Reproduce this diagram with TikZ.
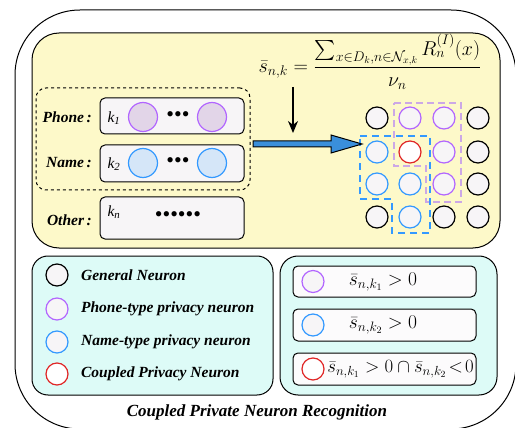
\documentclass[tikz,border=0pt]{standalone}
\usepackage{fix-cm}
\usepackage{amsmath,amssymb}
\usepackage{fontspec}
\setmainfont{Liberation Serif}
\usetikzlibrary{arrows.meta,positioning}

\definecolor{paleyellow}{HTML}{FDF9C9}
\definecolor{palecyan}{HTML}{DDFBF7}
\definecolor{cellgray}{HTML}{F7F5F7}
\definecolor{phonepurple}{HTML}{B266FF}
\definecolor{phonefill}{HTML}{E2D5E8}
\definecolor{nameblue}{HTML}{3399FF}
\definecolor{namefill}{HTML}{D5E6F8}
\definecolor{coupledred}{HTML}{E02626}
\definecolor{lavender}{HTML}{CCA8E6}
\definecolor{arrowblue}{HTML}{3A8FDB}

\newcommand{\lblfont}{\fontsize{15.5}{18}\selectfont\bfseries\itshape}
\newcommand{\mathfont}{\fontsize{19.5}{22}\selectfont}

\begin{document}
\begin{tikzpicture}[x=1pt, y=-1pt, node distance=9pt, auto]
  % Define styles
  \tikzstyle{panel} = [draw, line width=1pt]
  \tikzstyle{rowbox} = [rectangle, draw, line width=1pt, fill=cellgray, rounded corners=5pt, minimum width=144pt, inner sep=0pt]
  \tikzstyle{rulebox} = [rectangle, draw, line width=1pt, fill=white!60!cellgray, rounded corners=5pt, minimum width=183pt, minimum height=31pt, inner sep=0pt]
  \tikzstyle{neuron} = [circle, draw, line width=1.2pt, fill=cellgray, minimum size=22pt, inner sep=0pt]
  \tikzstyle{bigneuron} = [circle, draw, line width=1.2pt, minimum size=29pt, inner sep=0pt]
  \tikzstyle{label} = [font=\lblfont, inner sep=2pt]
  \tikzstyle{legend} = [font=\lblfont, anchor=west]
  \tikzstyle{dots} = [font=\fontsize{22}{24}\selectfont, inner sep=0pt]
  \tikzstyle{line} = [draw, line width=1.2pt, -{Stealth[length=12pt, width=10pt]}]

  \useasboundingbox (0,0) rectangle (515,428);

  % Panels
  \draw [panel, rounded corners=65pt] (15,10) rectangle (516,429);
  \draw [panel, fill=paleyellow, rounded corners=27pt] (32,33) rectangle (500,248);
  \draw [panel, fill=palecyan, rounded corners=16pt] (32,256) rectangle (273,395);
  \draw [panel, fill=palecyan, rounded corners=18pt] (280,256) rectangle (497,395);

  % Privacy data rows
  \node [rectangle, draw, dashed, line width=1pt, rounded corners=10pt, minimum width=214pt, minimum height=102pt] (group) at (143,139) {};
  \node [rowbox, minimum height=36pt] (phonerow) at (172,116) {};
  \node [rowbox, minimum height=37pt] (namerow) at (172,163.5) {};
  \node [rowbox, minimum height=42pt] (otherrow) at (172,218) {};

  \node [label, anchor=east] (phone) at (94,117) {Phone\,:};
  \node [label, anchor=east] (name) at (94,163) {Name\,:};
  \node [label, anchor=east] (other) at (94,220) {Other\,:};

  \node [font=\fontsize{15.5}{18}\selectfont\itshape] (k1) at (114,118) {k\textsubscript{1}};
  \node [font=\fontsize{15.5}{18}\selectfont\itshape] (k2) at (114,164) {k\textsubscript{2}};
  \node [font=\fontsize{15.5}{18}\selectfont\itshape] (kn) at (114,212) {k\textsubscript{\textit{n}}};

  \node [bigneuron, draw=phonepurple, fill=phonefill] (p1) at (143,117) {};
  \node [dots] (pdots) at (178,117) {\textbullet\textbullet\textbullet};
  \node [bigneuron, draw=phonepurple, fill=phonefill] (p2) at (212,117) {};
  \node [bigneuron, draw=nameblue, fill=namefill] (m1) at (143,163) {};
  \node [dots] (mdots) at (178,163) {\textbullet\textbullet\textbullet};
  \node [bigneuron, draw=nameblue, fill=namefill] (m2) at (212,163) {};
  \node [dots] (odots) at (178,217) {\textbullet\textbullet\textbullet\textbullet\textbullet\textbullet};

  % Score formula
  \node (formula) at (370,62) {\fontsize{20}{24}\selectfont $\displaystyle \bar{s}_{n,k} = \frac{\sum_{x\in D_k, n\in\mathcal{N}_{x,k}} R_n^{(I)}(x)}{\nu_n}$};
  \coordinate (formulafoot) at (293,87);
  \coordinate (scorein) at (293,133);
  \path [line] (formulafoot) -- (scorein);

  % Neuron grid
  \node [neuron] (n11) at (377,118) {};
  \node [neuron, draw=phonepurple] (n12) at (410,118) {};
  \node [neuron, draw=phonepurple] (n13) at (444,118) {};
  \node [neuron] (n14) at (478,118) {};
  \node [neuron, draw=nameblue] (n21) at (377,152) {};
  \node [neuron, draw=coupledred, fill=white] (n22) at (410,152) {};
  \node [neuron, draw=phonepurple] (n23) at (444,152) {};
  \node [neuron] (n24) at (478,152) {};
  \node [neuron, draw=nameblue] (n31) at (377,184) {};
  \node [neuron, draw=nameblue] (n32) at (410,184) {};
  \node [neuron, draw=phonepurple] (n33) at (444,184) {};
  \node [neuron] (n34) at (478,184) {};
  \node [neuron] (n41) at (377,217) {};
  \node [neuron, draw=nameblue] (n42) at (410,217) {};
  \node [neuron] (n43) at (444,217) {};
  \node [neuron] (n44) at (478,217) {};

  \draw [lavender, line width=2.4pt, dash pattern=on 7pt off 4pt] (394,103) -- (461,103) -- (461,202) -- (426,202) -- (426,166) -- (394,166) -- cycle;
  \draw [nameblue, line width=2.4pt, dash pattern=on 7pt off 5pt] (360,136) -- (430,136) -- (430,233) -- (392,233) -- (392,199) -- (360,199) -- cycle;

  % Mapping arrow
  \coordinate (arrowtail) at (253,144);
  \coordinate (arrowtip) at (362,144);
  \draw [line width=1pt, fill=arrowblue] (arrowtail) ++(0,-3) -- ++(78,0) -- ++(0,-6) -- (arrowtip) -- ++(-31,9) -- ++(0,-6) -- ++(-78,0) -- cycle;

  % Legend
  \node [neuron] (g1) at (57,275) {};
  \node [legend, right=of g1] (g1text) {General Neuron};
  \node [neuron, draw=phonepurple] (g2) at (57,309) {};
  \node [legend, right=of g2] (g2text) {Phone-type privacy neuron};
  \node [neuron, draw=nameblue] (g3) at (57,342) {};
  \node [legend, right=of g3] (g3text) {Name-type privacy neuron};
  \node [neuron, draw=coupledred, fill=white] (g4) at (57,374) {};
  \node [legend, right=of g4] (g4text) {Coupled Privacy Neuron};

  % Rules
  \node [rulebox] (r1) at (384.5,281.5) {};
  \node [neuron, draw=phonepurple] (c1) at (313,281.5) {};
  \node [font=\mathfont] (t1) at (383,282) {$\bar{s}_{n,k_1} > 0$};
  \node [rulebox, minimum height=32pt] (r2) at (384.5,325) {};
  \node [neuron, draw=nameblue] (c2) at (313,325) {};
  \node [font=\mathfont] (t2) at (383,325) {$\bar{s}_{n,k_2} > 0$};
  \node [rulebox, minimum height=32pt] (r3) at (384.5,369) {};
  \node [neuron, draw=coupledred, fill=white] (c3) at (313,369) {};
  \node [font=\fontsize{18.8}{22}\selectfont, inner sep=0pt] (t3) at (400.5,369) {$\bar{s}_{n,k_1} > 0 \cap \bar{s}_{n,k_2}\!<\!0$};

  \node [font=\fontsize{17}{20}\selectfont\bfseries\itshape] (title) at (257,412) {Coupled Private Neuron Recognition};
\end{tikzpicture}
\end{document}
